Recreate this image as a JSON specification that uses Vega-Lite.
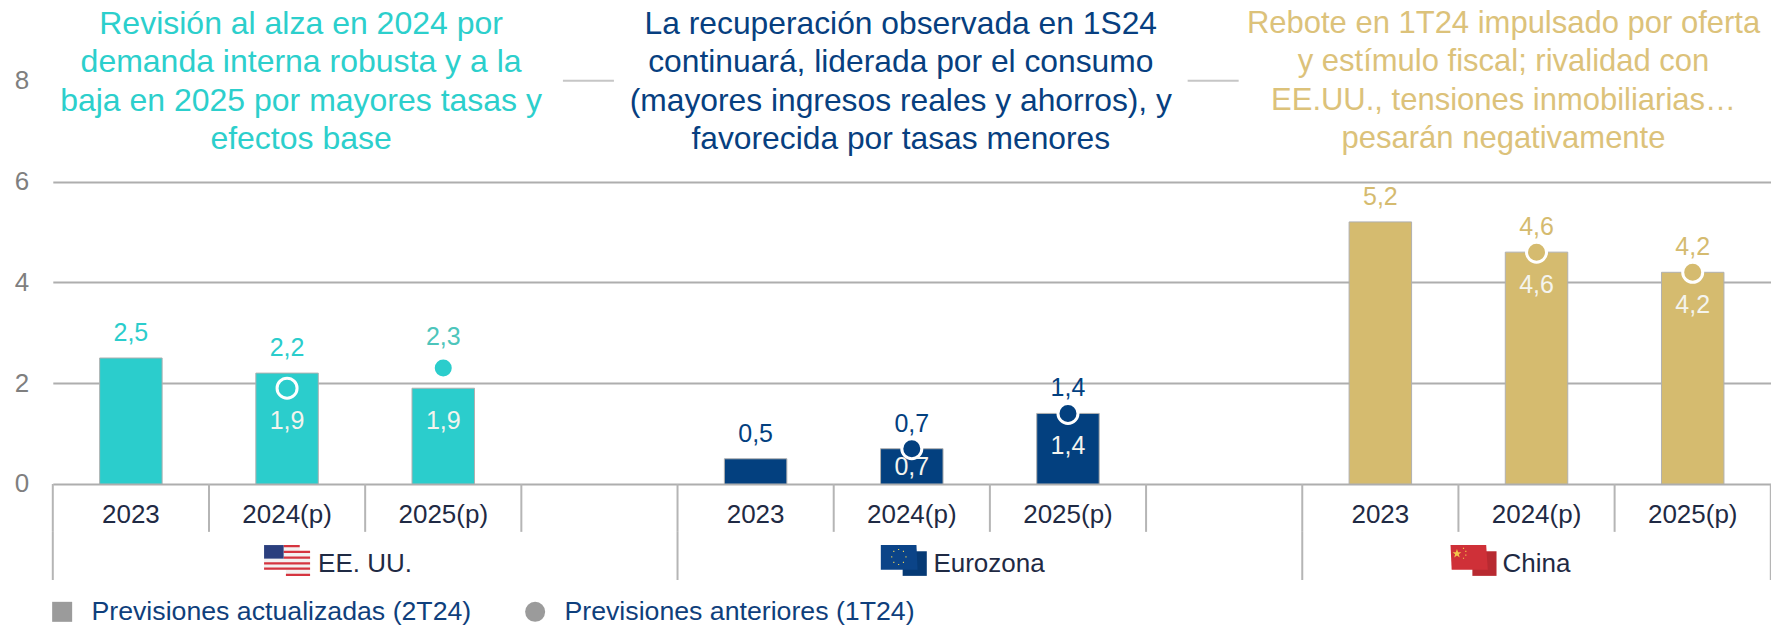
{"$schema":"https://vega.github.io/schema/vega-lite/v6.json","width":1718,"height":625,"autosize":"none","padding":{"left":52.8,"top":0,"right":0,"bottom":0},"background":"white","config":{"view":{"stroke":null},"font":"Liberation Sans"},
"datasets":{"d":[
{"grupo":"EE. UU.","slot":"a1","anio":"2023","actual":2.5,"anterior":null,"sup":2.5,"inf":null,"inicio":true},
{"grupo":"EE. UU.","slot":"a2","anio":"2024(p)","actual":2.2,"anterior":1.9,"sup":2.2,"inf":1.9,"inicio":false},
{"grupo":"EE. UU.","slot":"a3","anio":"2025(p)","actual":1.9,"anterior":2.3,"sup":2.3,"inf":1.9,"inicio":false},
{"grupo":"EE. UU.","slot":"a4","anio":"","actual":null,"anterior":null,"sup":null,"inf":null,"inicio":false},
{"grupo":"Eurozona","slot":"b1","anio":"2023","actual":0.5,"anterior":null,"sup":0.5,"inf":null,"inicio":true},
{"grupo":"Eurozona","slot":"b2","anio":"2024(p)","actual":0.7,"anterior":0.7,"sup":0.7,"inf":0.7,"inicio":false},
{"grupo":"Eurozona","slot":"b3","anio":"2025(p)","actual":1.4,"anterior":1.4,"sup":1.4,"inf":1.4,"inicio":false},
{"grupo":"Eurozona","slot":"b4","anio":"","actual":null,"anterior":null,"sup":null,"inf":null,"inicio":false},
{"grupo":"China","slot":"c1","anio":"2023","actual":5.2,"anterior":null,"sup":5.2,"inf":null,"inicio":true},
{"grupo":"China","slot":"c2","anio":"2024(p)","actual":4.6,"anterior":4.6,"sup":4.6,"inf":4.6,"inicio":false},
{"grupo":"China","slot":"c3","anio":"2025(p)","actual":4.2,"anterior":4.2,"sup":4.2,"inf":4.2,"inicio":false}],
"notas":[
{"slot":"a2","grupo":"EE. UU.","nota":"Revisión al alza en 2024 por\ndemanda interna robusta y a la\nbaja en 2025 por mayores tasas y\nefectos base"},
{"slot":"b2","grupo":"Eurozona","nota":"La recuperación observada en 1S24\ncontinuará, liderada por el consumo\n(mayores ingresos reales y ahorros), y\nfavorecida por tasas menores"},
{"slot":"c2","grupo":"China","nota":"Rebote en 1T24 impulsado por oferta\ny estímulo fiscal; rivalidad con\nEE.UU., tensiones inmobiliarias…\npesarán negativamente"}],
"serie":[{"serie":"Previsiones actualizadas (2T24)"},{"serie":"Previsiones anteriores (1T24)"}]},
"data":{"name":"d"},
"transform":[{"calculate":"replace(format(datum.sup,'.1f'),'.',',')","as":"tsup"},{"calculate":"replace(format(datum.inf,'.1f'),'.',',')","as":"tinf"}],
"encoding":{"x":{"field":"slot","type":"ordinal","sort":null,"axis":null,"scale":{"domain":["a1","a2","a3","a4","b1","b2","b3","b4","c1","c2","c3"],"paddingInner":0,"paddingOuter":0}}},
"layer":[
{"transform":[{"filter":"datum.actual!=null"}],"mark":{"type":"bar","width":{"band":0.4},"stroke":"#b0b0b0","strokeWidth":1},
 "encoding":{"y":{"field":"actual","type":"quantitative","title":null,"scale":{"domain":[-2.798,9.603],"nice":false,"zero":false},
 "axis":{"values":[0,2,4,6,8],"grid":true,"gridColor":"#aeaeae","gridWidth":2,"gridOpacity":{"condition":{"test":"datum.value==8","value":0},"value":1},"domain":false,"ticks":false,"labelFontSize":26,"labelColor":"#7f7f7f","labelPadding":24,"labelFont":"Liberation Sans"}},
 "color":{"field":"grupo","type":"nominal","legend":null,"scale":{"domain":["EE. UU.","Eurozona","China"],"range":["#2bcdcc","#03407f","#d5bb6f"]}}}},
{"transform":[{"filter":"datum.anio==''"}],"mark":{"type":"tick","orient":"horizontal","size":51,"thickness":2,"xOffset":-11,"color":"#aeaeae"},"encoding":{"y":{"datum":8}}},
{"mark":{"type":"rule","color":"#b5b5b5","strokeWidth":2},"encoding":{"x":{"field":"slot","type":"ordinal","sort":null,"bandPosition":0,"axis":null},"y":{"datum":0},"y2":{"datum":-0.95}}},
{"transform":[{"filter":"datum.inicio"}],"mark":{"type":"rule","color":"#b5b5b5","strokeWidth":2},"encoding":{"x":{"field":"slot","type":"ordinal","sort":null,"bandPosition":0,"axis":null},"y":{"datum":-0.95},"y2":{"datum":-1.905}}},
{"transform":[{"filter":"datum.slot=='c3'"}],"mark":{"type":"rule","color":"#b5b5b5","strokeWidth":2},"encoding":{"x":{"field":"slot","type":"ordinal","sort":null,"bandPosition":1,"axis":null},"y":{"datum":0},"y2":{"datum":-1.905}}},
{"transform":[{"filter":"datum.anterior!=null"}],"mark":{"type":"point","filled":true,"size":400,"stroke":"white","strokeWidth":3,"opacity":1},"encoding":{"y":{"field":"anterior","type":"quantitative"},"fill":{"field":"grupo","type":"nominal","legend":null,"scale":{"domain":["EE. UU.","Eurozona","China"],"range":["#2bcdcc","#03407f","#d5bb6f"]}}}},
{"transform":[{"filter":"datum.sup!=null && datum.sup!=2.3"}],"mark":{"type":"text","fontSize":25,"dy":-25,"baseline":"middle"},"encoding":{"y":{"field":"sup","type":"quantitative"},"text":{"field":"tsup"},"color":{"field":"grupo","type":"nominal","legend":null,"scale":{"domain":["EE. UU.","Eurozona","China"],"range":["#4dc5bb","#1b4f86","#cfbb85"]}}}},
{"transform":[{"filter":"datum.sup==2.3"}],"mark":{"type":"text","fontSize":25,"dy":-31,"baseline":"middle","color":"#4dc5bb"},"encoding":{"y":{"field":"sup","type":"quantitative"},"text":{"field":"tsup"}}},
{"transform":[{"filter":"datum.inf!=null && datum.inf!=0.7"}],"mark":{"type":"text","fontSize":25,"dy":33,"baseline":"middle","color":"#f4f4ee"},"encoding":{"y":{"field":"inf","type":"quantitative"},"text":{"field":"tinf"}}},
{"transform":[{"filter":"datum.inf==0.7"}],"mark":{"type":"text","fontSize":25,"dy":18,"baseline":"middle","color":"#f4f4ee"},"encoding":{"y":{"field":"inf","type":"quantitative"},"text":{"field":"tinf"}}},
{"transform":[{"filter":"datum.anio!=''"}],"mark":{"type":"text","fontSize":26,"baseline":"middle","color":"#1f2a44"},"encoding":{"y":{"datum":-0.615},"text":{"field":"anio"}}},
{"transform":[{"filter":"datum.slot=='a2'"}],"mark":{"type":"text","fontSize":26,"baseline":"middle","align":"left","dx":31,"color":"#1f2a44"},"encoding":{"y":{"datum":-1.587},"text":{"field":"grupo"}}},
{"transform":[{"filter":"datum.slot=='b2'"}],"mark":{"type":"text","fontSize":26,"baseline":"middle","align":"left","dx":21.6,"color":"#1f2a44"},"encoding":{"y":{"datum":-1.587},"text":{"field":"grupo"}}},
{"transform":[{"filter":"datum.slot=='c2'"}],"mark":{"type":"text","fontSize":26,"baseline":"middle","align":"left","dx":-34,"color":"#1f2a44"},"encoding":{"y":{"datum":-1.587},"text":{"field":"grupo"}}},
{"data":{"name":"notas"},"transform":[{"filter":"datum.grupo=='EE. UU.'"}],"mark":{"type":"text","fontSize":32,"lineHeight":38.4,"lineBreak":"\n","baseline":"middle","dx":14,"color":"#2ccfcc"},"encoding":{"y":{"datum":9.13},"text":{"field":"nota"}}},
{"data":{"name":"notas"},"transform":[{"filter":"datum.grupo=='Eurozona'"}],"mark":{"type":"text","fontSize":31.8,"lineHeight":38.4,"lineBreak":"\n","baseline":"middle","dx":-11,"color":"#073f80"},"encoding":{"y":{"datum":9.13},"text":{"field":"nota"}}},
{"data":{"name":"notas"},"transform":[{"filter":"datum.grupo=='China'"}],"mark":{"type":"text","fontSize":31,"lineHeight":38.4,"lineBreak":"\n","baseline":"middle","dx":-33,"color":"#dcc27a"},"encoding":{"y":{"datum":9.13},"text":{"field":"nota"}}},
{"transform":[{"filter":"datum.slot=='a2'"}],"mark":{"type":"point","filled":true,"opacity":1,"size":2116,"yOffset":-3.5,"color":"#f3f1f1","shape":"M-1,-.67L.55,-.67L.55,-.4L1,-.4L1,.67L-.05,.67L-.05,.4L-1,.4Z"},"encoding":{"y":{"datum":-1.587}}},
{"transform":[{"filter":"datum.slot=='a2'"}],"mark":{"type":"point","filled":true,"opacity":1,"size":2116,"yOffset":-3.5,"color":"#d5343f","shape":"M-.15,-.67L.55,-.67L.55,-.58L-.15,-.58ZM-.15,-.42L1,-.42L1,-.33L-.15,-.33ZM-.15,-.17L1,-.17L1,-.08L-.15,-.08ZM-1,.08L1,.08L1,.17L-1,.17ZM-1,.31L1,.31L1,.4L-1,.4ZM-.05,.58L1,.58L1,.67L-.05,.67Z"},"encoding":{"y":{"datum":-1.587}}},
{"transform":[{"filter":"datum.slot=='a2'"}],"mark":{"type":"point","filled":true,"opacity":1,"size":2116,"yOffset":-3.5,"color":"#2b3f7e","shape":"M-1,-.67L-.15,-.67L-.15,-.08L-1,-.08Z"},"encoding":{"y":{"datum":-1.587}}},
{"transform":[{"filter":"datum.slot=='b2'"}],"mark":{"type":"point","filled":true,"opacity":1,"size":2116,"xOffset":-8,"yOffset":-3.5,"color":"#063a75","shape":"M-.05,-.4L1,-.4L1,.67L-.05,.67Z"},"encoding":{"y":{"datum":-1.587}}},
{"transform":[{"filter":"datum.slot=='b2'"}],"mark":{"type":"point","filled":true,"opacity":1,"size":2116,"xOffset":-8,"yOffset":-3.5,"color":"#0b4488","shape":"M-1,-.67L.55,-.67L.6,.4L-1,.4Z"},"encoding":{"y":{"datum":-1.587}}},
{"transform":[{"filter":"datum.slot=='b2'"}],"mark":{"type":"point","filled":true,"opacity":1,"size":2116,"xOffset":-8,"yOffset":-3.5,"color":"#e6cf5a","shape":"M-.25,-.5h.05v.05h-.05ZM-.25,.15h.05v.05h-.05ZM-.55,-.18h.05v.05h-.05ZM.07,-.18h.05v.05h-.05ZM-.46,-.42h.05v.05h-.05ZM-.04,-.42h.05v.05h-.05ZM-.46,.06h.05v.05h-.05ZM-.04,.06h.05v.05h-.05Z"},"encoding":{"y":{"datum":-1.587}}},
{"transform":[{"filter":"datum.slot=='c2'"}],"mark":{"type":"point","filled":true,"opacity":1,"size":2116,"xOffset":-63,"yOffset":-3.5,"color":"#b82a31","shape":"M-.05,-.4L1,-.4L1,.67L-.05,.67Z"},"encoding":{"y":{"datum":-1.587}}},
{"transform":[{"filter":"datum.slot=='c2'"}],"mark":{"type":"point","filled":true,"opacity":1,"size":2116,"xOffset":-63,"yOffset":-3.5,"color":"#cf3038","shape":"M-1,-.67L.55,-.67L.62,.4L-.95,.4Z"},"encoding":{"y":{"datum":-1.587}}},
{"transform":[{"filter":"datum.slot=='c2'"}],"mark":{"type":"point","filled":true,"opacity":1,"size":2116,"xOffset":-63,"yOffset":-3.5,"color":"#f2c64a","shape":"M-.72,-.5L-.67,-.36L-.53,-.36L-.64,-.27L-.6,-.13L-.72,-.22L-.84,-.13L-.8,-.27L-.91,-.36L-.77,-.36ZM-.46,-.55h.05v.05h-.05ZM-.36,-.42h.05v.05h-.05ZM-.36,-.26h.05v.05h-.05ZM-.46,-.12h.05v.05h-.05Z"},"encoding":{"y":{"datum":-1.587}}},
{"data":{"name":"serie"},"mark":{"type":"point","filled":true,"opacity":1,"size":0,"color":"#9b9b9b"},"encoding":{"x":{"datum":"a1"},"y":{"datum":0},"shape":{"field":"serie","type":"nominal","scale":{"domain":["Previsiones actualizadas (2T24)","Previsiones anteriores (1T24)"],"range":["square","circle"]},"legend":{"title":null,"orient":"none","legendX":-4,"legendY":598,"direction":"horizontal","columns":2,"labelFontSize":26.7,"labelColor":"#0f3f7c","labelFont":"Liberation Sans","symbolSize":400,"symbolFillColor":"#9b9b9b","symbolStrokeColor":"#9b9b9b","symbolOpacity":1,"labelOffset":16,"columnPadding":50,"labelLimit":500}}}}
]}
